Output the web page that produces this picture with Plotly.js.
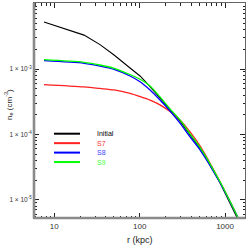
<!DOCTYPE html>
<html><head><meta charset="utf-8">
<script src="https://cdn.plot.ly/plotly-3.0.1.min.js"></script>
<style>html,body{margin:0;padding:0;background:#fff;}#g{width:250px;height:247px;}</style>
</head><body><div id="g"></div>
<script>
var r = [7.57, 22.3, 34.3, 50.1, 77.1, 101, 132.4, 173.1, 226.8, 297, 389, 509.5, 874, 1420];
var nInitial = [5.22e-3, 3.30e-3, 2.36e-3, 1.636e-3, 1.035e-3, 7.82e-4, 5.37e-4, 3.60e-4, 2.37e-4, 1.61e-4, 9.8e-5, 6.22e-5, 1.82e-5, 4.95e-6];
var nS7 = [5.76e-4, 5.31e-4, 5.04e-4, 4.78e-4, 4.23e-4, 3.78e-4, 3.33e-4, 2.82e-4, 2.23e-4, 1.665e-4, 1.092e-4, 6.67e-5, 1.88e-5, 5.31e-6];
var nS8 = [1.339e-3, 1.222e-3, 1.111e-3, 9.89e-4, 7.82e-4, 6.40e-4, 4.78e-4, 3.36e-4, 2.28e-4, 1.483e-4, 9.16e-5, 5.80e-5, 1.82e-5, 5.31e-6];
var nS9 = [1.387e-3, 1.265e-3, 1.151e-3, 1.025e-3, 8.24e-4, 6.96e-4, 5.50e-4, 3.74e-4, 2.45e-4, 1.665e-4, 1.017e-4, 6.33e-5, 1.88e-5, 5.31e-6];
var names = ["Initial","S7","S8","S9"];
var colors = ["#000000","#ff2020","#0000ff","#00ff00"];
var textColors = ["#000000","#ff3030","#4040ff","#40ff40"];
var series = [nInitial, nS7, nS8, nS9];
var xTicks = [10,100,1000];
var xTickText = ["10","100","1000"];
var yTicks = [1e-5,1e-4,1e-3,1e-2];
var yTickText = ["1 × 10<sup>-5</sup>","1 × 10<sup>-4</sup>","1 × 10<sup>-3</sup>","1 × 10<sup>-2</sup>"];

function minors(lo, hi){var v=[];for(var e=lo;e<=hi;e++){for(var m=2;m<=9;m++){v.push(m*Math.pow(10,e));}}return v;}

var traces = series.map(function(s,i){
  return {x:r, y:s, type:'scatter', mode:'lines', name:names[i],
    line:{color:colors[i], width:(i===0?1.1:1.3), shape:(i===0?'linear':'spline'), smoothing:0.8},
    showlegend:false};
});
var axisCommon = {type:'log', showgrid:false, zeroline:false, showline:true, linecolor:'#666', linewidth:1,
  mirror:'allticks', ticks:'inside', ticklen:5, tickwidth:1, tickcolor:'#222', tickmode:'array'};
var xa = Object.assign({}, axisCommon, {range:[0.762,3.234], tickvals:xTicks, ticktext:xTickText,
  tickfont:{family:'Liberation Sans, Arial', size:8, color:'#333'},
  minor:{tickmode:'array', tickvals:minors(0,3), ticks:'inside', ticklen:2.5, tickcolor:'#222', tickwidth:1, showgrid:false}});
var ya = Object.assign({}, axisCommon, {range:[-5.28,-1.99], tickvals:yTicks, ticktext:yTickText,
  tickfont:{family:'Liberation Sans, Arial', size:6.5, color:'#333'},
  minor:{tickmode:'array', tickvals:minors(-6,-3), ticks:'inside', ticklen:2.5, tickcolor:'#222', tickwidth:1, showgrid:false}});

var shapes = [
  {type:'line', xref:'paper', yref:'paper', x0:0, x1:0, y0:0, y1:1, line:{color:'#8a8a8a', width:2.6}},
  {type:'line', xref:'paper', yref:'paper', x0:0, x1:1, y0:0, y1:0, line:{color:'#8a8a8a', width:2.6}}
];
var annotations = [
  {xref:'paper', yref:'paper', x:-0.118, y:0.526, text:'n<sub>e</sub> (cm<sup>-3</sup>)', textangle:-90,
   showarrow:false, xanchor:'center', yanchor:'middle', font:{family:'Liberation Sans, Arial', size:8, color:'#222'}},
  {xref:'paper', yref:'paper', x:0.503, y:-0.102, text:'r (kpc)', showarrow:false, xanchor:'center', yanchor:'middle',
   font:{family:'Liberation Sans, Arial', size:9, color:'#222'}}
];
var legX0 = (54-34)/211, legX1 = (80-34)/211, legTX = (95-34)/211;
names.forEach(function(n,i){
  var yy = (218-(133.7+i*9.45))/215;
  shapes.push({type:'line', xref:'paper', yref:'paper', x0:legX0, x1:legX1, y0:yy, y1:yy, line:{color:colors[i], width:2}});
  annotations.push({xref:'paper', yref:'paper', x:legTX, y:yy, text:n, showarrow:false, xanchor:'left', yanchor:'middle',
    font:{family:'Liberation Sans, Arial', size:7, color:textColors[i]}});
});

var layout = {width:250, height:247, margin:{l:34, r:5, t:3, b:29}, paper_bgcolor:'#fff', plot_bgcolor:'#fff',
  xaxis:xa, yaxis:ya, shapes:shapes, annotations:annotations, showlegend:false};
Plotly.newPlot('g', traces, layout, {displayModeBar:false, staticPlot:true});
</script></body></html>
